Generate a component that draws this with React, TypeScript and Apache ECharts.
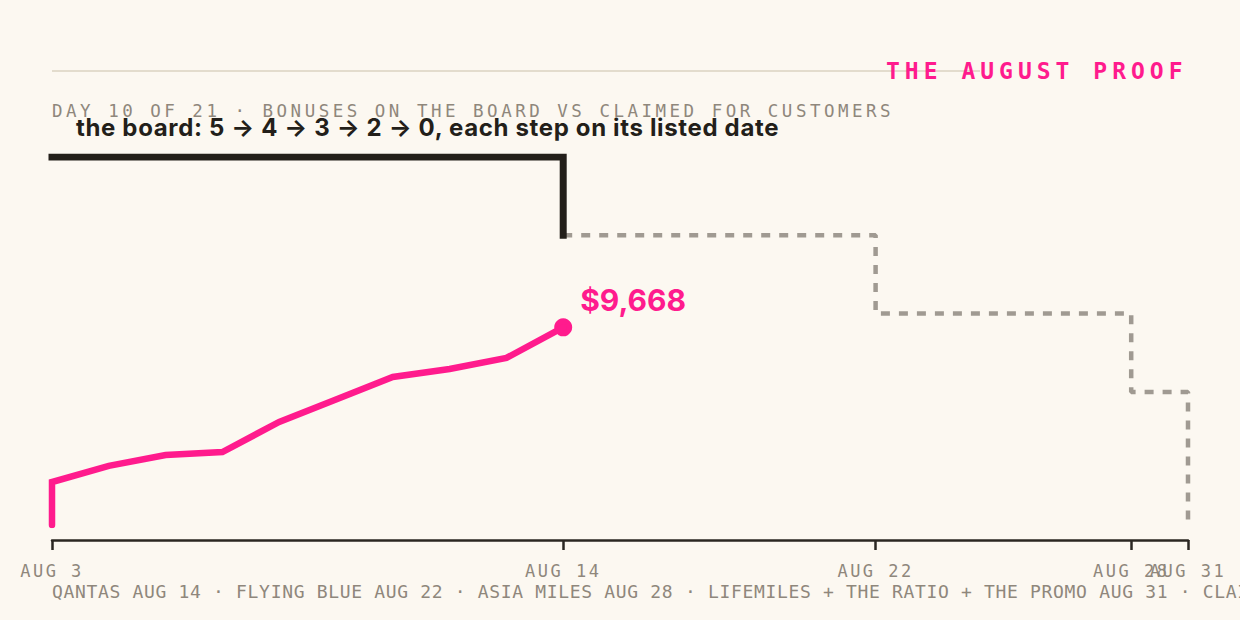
import React, { useEffect, useRef } from 'react';
import * as echarts from 'echarts';

// x is the business-day index from Aug 3 (0) to Aug 31 (20); a weekend date sits halfway
const tickDays = [0, 9, 14.5, 19, 20];
const tickLabels = ['AUG 3', 'AUG 14', 'AUG 22', 'AUG 28', 'AUG 31'];

// bonuses on the board: starts at 5, steps down on each listed date
const boardStart = 0;
const boardChangeDays = [9, 14.5, 19, 20];
const boardCounts = [5, 4, 3, 2, 0];
const todayIndex = 9;

// claimed for customers, USD, one point per business day so far
const claimedDays = [0, 0, 1, 2, 3, 4, 5, 6, 7, 8, 9];
const claimedUsd = [0, 2100, 2890, 3420, 3570, 5040, 6140, 7240, 7630, 8170, 9668];

const PINK = '#ff1b8d';
const INK = '#231f1a';
const AXIS = '#2b2722';
const MUTED = '#8f877c';
const BG = '#fcf8f1';
const MONO = '"DejaVu Sans Mono", monospace';

const boardPoints = () => {
  const pts: number[][] = [[boardStart, boardCounts[0]]];
  boardChangeDays.forEach((d, i) => {
    pts.push([d, boardCounts[i]]);
    pts.push([d, boardCounts[i + 1]]);
  });
  return pts;
};

// echarts drops one of two labels that touch (aug 28 / aug 31), so the ticks
// are spread over two identical bottom axes that each carry every other date
const dateAxis = (values: number[], showLine: boolean) => ({
  type: 'value',
  position: 'bottom',
  min: 0,
  max: 20,
  offset: 15,
  splitLine: { show: false },
  axisLine: { show: showLine, onZero: false, lineStyle: { color: AXIS, width: 2.5 } },
  axisTick: {
    customValues: values,
    length: 10,
    lineStyle: { color: AXIS, width: 2.5 }
  },
  axisLabel: {
    customValues: values,
    margin: 22,
    color: MUTED,
    fontFamily: MONO,
    fontSize: 17,
    formatter: (v: number) => tickLabels[tickDays.indexOf(v)] ?? ''
  }
});

const App: React.FC = () => {
  const chartRef = useRef<HTMLDivElement>(null);

  useEffect(() => {
    if (!chartRef.current) return;
    const chart = echarts.init(chartRef.current, null, { renderer: 'svg' });

    const pts = boardPoints();
    const todayCut = pts.findIndex((p) => p[0] === todayIndex) + 2;
    const done = pts.slice(0, todayCut);
    const ahead = pts.slice(todayCut - 1);
    const claimed = claimedDays.map((d, i) => [d, claimedUsd[i]]);
    const last = claimed[claimed.length - 1];

    chart.setOption({
      animation: false,
      backgroundColor: BG,
      grid: { left: 52, right: 52, top: 157, bottom: 95 },
      xAxis: [
        dateAxis(tickDays.filter((_, i) => i % 2 === 0), true),
        dateAxis(tickDays.filter((_, i) => i % 2 === 1), false)
      ],
      yAxis: [
        { type: 'value', min: 0.3, max: 5, show: false },
        { type: 'value', min: 0, max: 18000, show: false }
      ],
      graphic: [
        {
          type: 'line',
          shape: { x1: 52, y1: 71, x2: 980, y2: 71 },
          style: { stroke: '#e3dccd', lineWidth: 2 }
        },
        {
          type: 'text',
          x: 886,
          y: 71,
          style: {
            text: 'THE AUGUST PROOF',
            fill: PINK,
            fontFamily: MONO,
            fontWeight: 'bold',
            fontSize: 23,
            verticalAlign: 'middle'
          }
        },
        {
          type: 'text',
          x: 52,
          y: 110.5,
          style: {
            text: 'DAY 10 OF 21 · BONUSES ON THE BOARD VS CLAIMED FOR CUSTOMERS',
            fill: MUTED,
            fontFamily: MONO,
            fontSize: 17.5,
            verticalAlign: 'middle'
          }
        },
        {
          type: 'text',
          x: 76,
          y: 127.5,
          style: {
            text: 'the board: 5 → 4 → 3 → 2 → 0, each step on its listed date',
            fill: INK,
            fontFamily: 'Inter, sans-serif',
            fontWeight: 'bold',
            fontSize: 24,
            verticalAlign: 'middle'
          }
        },
        {
          type: 'text',
          x: 52,
          y: 591.5,
          style: {
            text: 'QANTAS AUG 14 · FLYING BLUE AUG 22 · ASIA MILES AUG 28 · LIFEMILES + THE RATIO + THE PROMO AUG 31 · CLAIMED',
            fill: MUTED,
            fontFamily: MONO,
            fontSize: 18,
            verticalAlign: 'middle'
          }
        }
      ],
      series: [
        {
          type: 'line',
          yAxisIndex: 0,
          data: ahead,
          symbol: 'none',
          lineStyle: { color: '#a09a92', width: 4.5, type: [9, 9] }
        },
        {
          type: 'line',
          yAxisIndex: 0,
          data: done,
          symbol: 'none',
          lineStyle: { color: INK, width: 7, cap: 'square', join: 'miter' }
        },
        {
          type: 'line',
          yAxisIndex: 1,
          data: claimed,
          symbol: 'none',
          lineStyle: { color: PINK, width: 6.5, cap: 'round', join: 'miter' }
        },
        {
          type: 'scatter',
          yAxisIndex: 1,
          data: [last],
          symbolSize: 18,
          itemStyle: { color: PINK, opacity: 1 },
          label: {
            show: true,
            position: 'right',
            offset: [3, -27],
            color: PINK,
            fontFamily: 'Inter, sans-serif',
            fontWeight: 'bold',
            fontSize: 30,
            formatter: (p: any) => '$' + Number(p.value[1]).toLocaleString('en-US')
          }
        }
      ]
    });

    return () => {
      chart.dispose();
    };
  }, []);

  return (
    <>
      <style>{`
        body { margin: 0; }
        #chart text[style*="23px"] { letter-spacing: 5px; }
        #chart text[style*="17.5px"] { letter-spacing: 3.5px; }
        #chart text[style*="18px"] { letter-spacing: 0.67px; }
        #chart text[style*="17px"] { letter-spacing: 2.5px; }
        #chart text[style*="24px"] { letter-spacing: 0.65px; }
      `}</style>
      <div
        id="chart"
        ref={chartRef}
        style={{ position: 'absolute', left: 0, top: 0, width: 1240, height: 620, background: BG }}
      />
    </>
  );
};

export default App;
